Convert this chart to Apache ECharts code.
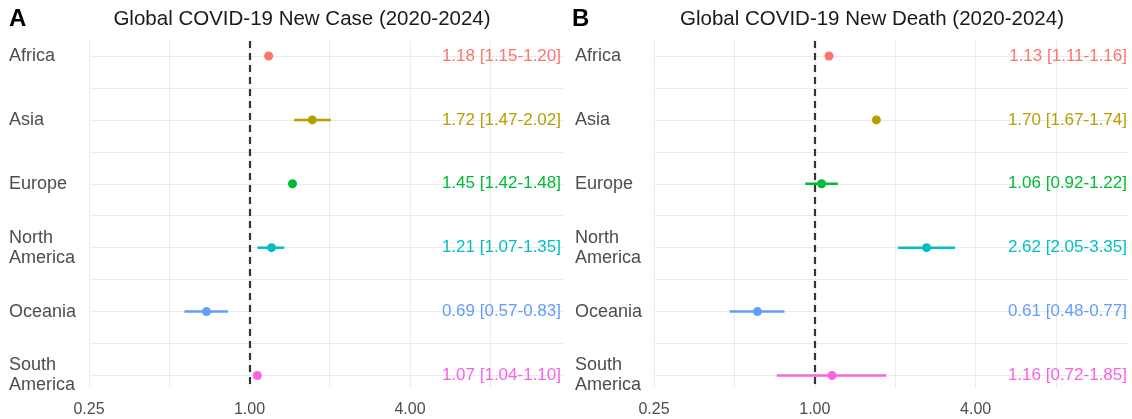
<!DOCTYPE html>
<html>
<head>
<meta charset="utf-8">
<script src="https://cdn.jsdelivr.net/npm/echarts@6/dist/echarts.min.js"></script>
<style>
  html, body { margin: 0; padding: 0; background: #ffffff; }
  #chart { width: 1132px; height: 419px; }
</style>
</head>
<body>
<div id="chart"></div>
<script>
// Regional odds ratios with 95% confidence intervals
const regions = ['Africa', 'Asia', 'Europe', 'North\nAmerica', 'Oceania', 'South\nAmerica'];

const caseEst  = [1.18, 1.72, 1.45, 1.21, 0.69, 1.07];
const caseLow  = [1.15, 1.47, 1.42, 1.07, 0.57, 1.04];
const caseHigh = [1.20, 2.02, 1.48, 1.35, 0.83, 1.10];

const deathEst  = [1.13, 1.70, 1.06, 2.62, 0.61, 1.16];
const deathLow  = [1.11, 1.67, 0.92, 2.05, 0.48, 0.72];
const deathHigh = [1.16, 1.74, 1.22, 3.35, 0.77, 1.85];

const xTickLabels = [0.25, 1, 4];

const palette = ['#F8766D', '#B79F00', '#00BA38', '#00BFC4', '#619CFF', '#F564E3'];
const FONT = '"Liberation Sans", Arial, Helvetica, sans-serif';
const GRID_COLOR = '#EBEBEB';
const rowIdx = regions.map((_, i) => i);
const gridRows = [];
for (let v = 0; v <= regions.length - 1; v += 0.5) gridRows.push(v);

const fmt = v => v.toFixed(2);
const ciText = (est, lo, hi) => est.map((e, i) => `${fmt(e)} [${fmt(lo[i])}-${fmt(hi[i])}]`);

const panels = [
  { est: caseEst, lo: caseLow, hi: caseHigh, labelX: 9, grid: { left: 89, top: 41, width: 474, height: 347 } },
  { est: deathEst, lo: deathLow, hi: deathHigh, labelX: 575, grid: { left: 654, top: 41, width: 475, height: 347 } }
];

const grids = [], xAxes = [], yAxes = [], series = [];

panels.forEach((p, k) => {
  grids.push(p.grid);
  const texts = ciText(p.est, p.lo, p.hi);

  xAxes.push({
    type: 'log', logBase: 2, gridIndex: k, min: 0.25, max: 15,
    axisLine: { show: false }, axisTick: { show: false },
    splitLine: { show: true, showMaxLine: false, lineStyle: { color: GRID_COLOR, width: 1 } },
    axisLabel: {
      margin: 14, fontSize: 16, fontFamily: FONT, color: '#4D4D4D',
      showMaxLabel: false,
      formatter: v => xTickLabels.some(t => Math.abs(t - v) < 1e-9) ? fmt(v) : ''
    }
  });

  // region names (left) and horizontal grid
  yAxes.push({
    type: 'value', gridIndex: k, inverse: true, min: -0.235, max: 5.196,
    axisLine: { show: false },
    axisTick: { show: false, customValues: gridRows },
    splitLine: { show: true, lineStyle: { color: GRID_COLOR, width: 1 } },
    axisLabel: {
      customValues: rowIdx, align: 'left', margin: p.grid.left - p.labelX,
      fontSize: 18, lineHeight: 20, fontFamily: FONT, color: '#4D4D4D',
      formatter: v => regions[Math.round(v)]
    }
  });

  // estimate text (right, inside the panel)
  yAxes.push({
    type: 'value', gridIndex: k, position: 'right', inverse: true, min: -0.235, max: 5.196,
    axisLine: { show: false }, axisTick: { show: false }, splitLine: { show: false },
    axisLabel: {
      inside: true, customValues: rowIdx, margin: 2,
      fontSize: 17, fontFamily: FONT,
      color: v => palette[Math.round(v)],
      formatter: v => texts[Math.round(v)]
    }
  });

  series.push({
    type: 'custom', xAxisIndex: k, yAxisIndex: 2 * k, silent: true,
    data: p.est.map((e, i) => [e, i, p.lo[i], p.hi[i]]),
    encode: { x: 0, y: 1 },
    renderItem: (params, api) => {
      const y = api.value(1);
      const a = api.coord([api.value(2), y]);
      const b = api.coord([api.value(3), y]);
      return {
        type: 'line',
        shape: { x1: a[0], y1: a[1], x2: b[0], y2: b[1] },
        style: { stroke: palette[params.dataIndex], lineWidth: 2.5 }
      };
    }
  });

  series.push({
    type: 'scatter', xAxisIndex: k, yAxisIndex: 2 * k, silent: true,
    symbolSize: 9,
    data: p.est.map((e, i) => [e, i]),
    itemStyle: { color: params => palette[params.dataIndex], opacity: 1 },
    markLine: {
      silent: true, symbol: 'none', label: { show: false },
      lineStyle: { type: [7, 5], color: '#333333', width: 2.2 },
      data: [{ xAxis: 1 }]
    }
  });
});

const chart = echarts.init(document.getElementById('chart'), null, { renderer: 'canvas' });
chart.setOption({
  animation: false,
  backgroundColor: '#ffffff',
  grid: grids,
  xAxis: xAxes,
  yAxis: yAxes,
  series: series,
  graphic: [
    { type: 'text', x: 9, y: 19, style: { text: 'A', font: 'bold 24px ' + FONT, fill: '#000', textAlign: 'left', textVerticalAlign: 'middle' } },
    { type: 'text', x: 302, y: 19, style: { text: 'Global COVID-19 New Case (2020-2024)', font: '20.5px ' + FONT, fill: '#1A1A1A', textAlign: 'center', textVerticalAlign: 'middle' } },
    { type: 'text', x: 572, y: 19, style: { text: 'B', font: 'bold 24px ' + FONT, fill: '#000', textAlign: 'left', textVerticalAlign: 'middle' } },
    { type: 'text', x: 872, y: 19, style: { text: 'Global COVID-19 New Death (2020-2024)', font: '20.5px ' + FONT, fill: '#1A1A1A', textAlign: 'center', textVerticalAlign: 'middle' } }
  ]
});
</script>
</body>
</html>
